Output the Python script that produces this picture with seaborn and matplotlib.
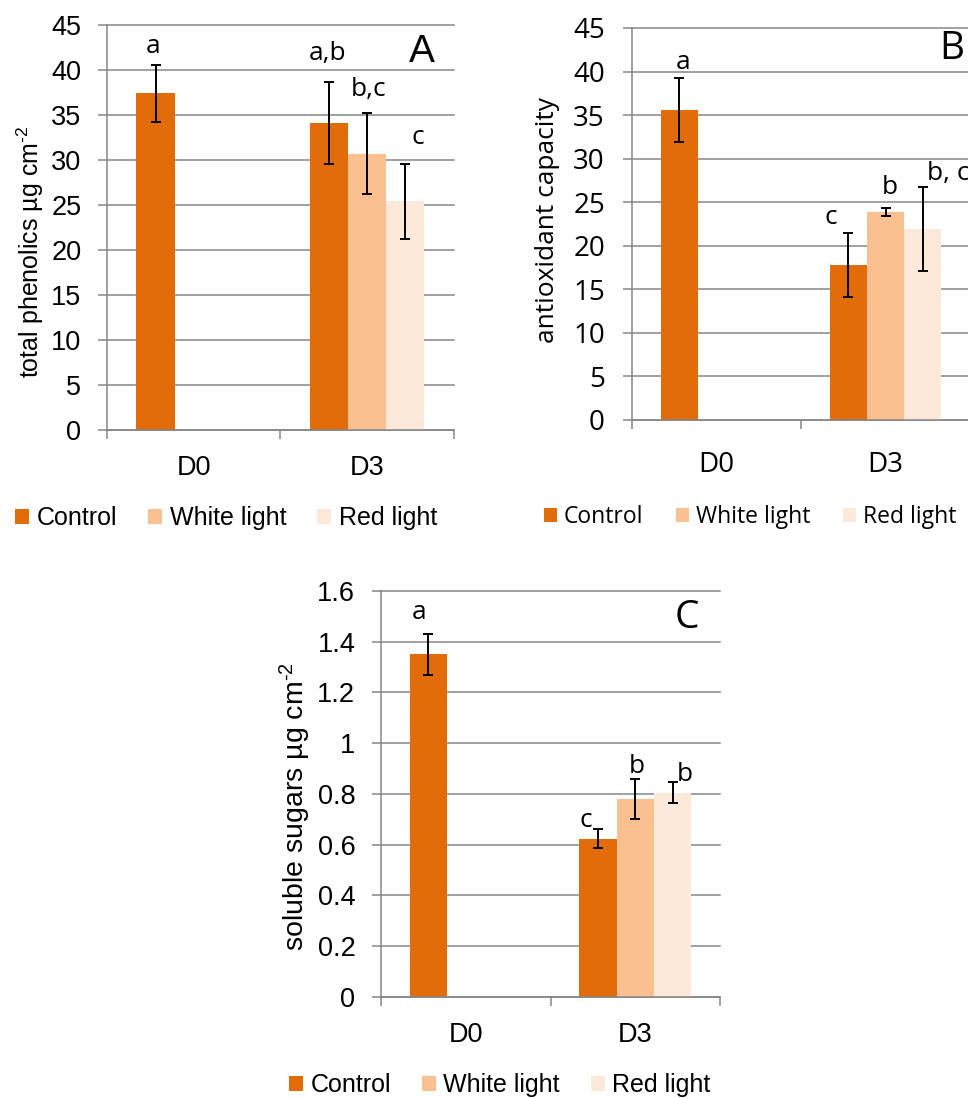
import numpy as np
import pandas as pd
import matplotlib
matplotlib.use("Agg")
import matplotlib.pyplot as plt
from matplotlib.patches import Patch
from matplotlib.ticker import FuncFormatter
import seaborn as sns

# values (mean and error bar half-length)
days = ["D0", "D3", "D3", "D3"]
treatments = ["Control", "Control", "White light", "Red light"]
day_order = ["D0", "D3"]
treatment_order = ["Control", "White light", "Red light"]

phenolics_mean = [37.4, 34.1, 30.7, 25.4]
phenolics_sd = [3.2, 4.6, 4.5, 4.2]
phenolics_letters = ["a", "a,b", "b,c", "c"]

antiox_mean = [35.6, 17.8, 23.9, 21.9]
antiox_sd = [3.65, 3.65, 0.45, 4.85]
antiox_letters = ["a", "c", "b", "b, c"]

sugars_mean = [1.35, 0.624, 0.779, 0.805]
sugars_sd = [0.08, 0.037, 0.078, 0.042]
sugars_letters = ["a", "c", "b", "b"]

colors = ["#E36C0A", "#FAC090", "#FDE9D9"]
grid_col = "#868686"

plt.rcParams["mathtext.fontset"] = "custom"
plt.rcParams["mathtext.rm"] = "Liberation Sans"
plt.rcParams["mathtext.it"] = "Liberation Sans:italic"
plt.rcParams["mathtext.bf"] = "Liberation Sans:bold"

fig = plt.figure(figsize=(9.68, 10.98), dpi=100)
fig.patch.set_facecolor("white")


def draw_panel(rect, means, sds, letters, ylim, ystep, ylabel, font, tick_size, ylab_size,
               leg_size, leg_spacing, ypad, xpad, tag, tag_font, tag_xy, letter_y, letter_dx,
               leg_xy, ylab_xy):
    ax = fig.add_axes(rect)
    df = pd.DataFrame({"day": days, "treatment": treatments, "value": means, "sd": sds})
    sns.barplot(data=df, x="day", y="value", hue="treatment", order=day_order,
                hue_order=treatment_order, palette=colors, width=0.66, saturation=1,
                errorbar=None, legend=False, linewidth=0, ax=ax, zorder=2)

    # bar centres, one container per treatment
    xpos = {}
    for cont, trt in zip(ax.containers, treatment_order):
        rows = df[df["treatment"] == trt]
        for bar, idx in zip(cont.patches, rows.index):
            xpos[idx] = bar.get_x() + bar.get_width() / 2
    xs = [xpos[i] for i in df.index]
    ax.errorbar(xs, df["value"], yerr=df["sd"], fmt="none", ecolor="black",
                elinewidth=1.4, capsize=3.3, capthick=1.4, zorder=3)

    for i, lab in enumerate(letters):
        ax.annotate(lab, (xs[i], letter_y[i]), xytext=(letter_dx[i] * 0.72, 0),
                    textcoords="offset points", ha="center", va="center",
                    fontsize=19, family="Open Sans", annotation_clip=False)

    ax.text(tag_xy[0], tag_xy[1], tag, fontsize=28, family=tag_font,
            ha="center", va="center")

    ax.set_xlim(-0.5, 1.5)
    ax.set_ylim(*ylim)
    ax.set_yticks(np.arange(ylim[0], ylim[1] + ystep / 2, ystep))
    ax.yaxis.set_major_formatter(FuncFormatter(lambda v, p: f"{v:g}"))
    ax.set_xticks([0, 1])
    ax.set_xticklabels(day_order)
    ax.set_xticks([-0.5, 0.5, 1.5], minor=True)
    ax.set_xlabel("")
    ax.set_ylabel(ylabel, fontsize=ylab_size, family=font)
    ax.yaxis.set_label_coords(*ylab_xy)

    ax.yaxis.grid(True, color=grid_col, lw=1.1)
    for gl in ax.get_ygridlines():
        gl.set_clip_on(False)
    ax.set_axisbelow(True)
    for s in ["top", "right"]:
        ax.spines[s].set_visible(False)
    for s in ["left", "bottom"]:
        ax.spines[s].set_color(grid_col)
        ax.spines[s].set_linewidth(1.1)

    ax.tick_params(axis="y", length=6.5, width=1.1, color=grid_col, pad=ypad,
                   labelsize=tick_size)
    ax.tick_params(axis="x", which="major", length=0, pad=xpad, labelsize=tick_size)
    ax.tick_params(axis="x", which="minor", length=6.5, width=1.1, color=grid_col)
    for t in ax.get_xticklabels() + ax.get_yticklabels():
        t.set_family(font)

    handles = [Patch(facecolor=c, edgecolor="none") for c in colors]
    fig.legend(handles, treatment_order, loc="center", bbox_to_anchor=leg_xy, ncol=3,
               frameon=False, handlelength=0.55, handleheight=0.55, handletextpad=0.3,
               columnspacing=leg_spacing, borderpad=0, prop={"family": font, "size": leg_size})
    return ax


# A - total phenolics
draw_panel([0.1105, 0.6084, 0.3585, 0.3689], phenolics_mean, phenolics_sd, phenolics_letters,
           (0, 45), 5, r"total phenolics µg cm$^{\text{-}2}$", "Liberation Sans", 19.5, 18,
           18, 1.25, 12, 18, "A", "Liberation Sans", (1.316, 42.0),
           [42.6, 41.8, 37.8, 32.5], [-2, -1, 1, 12], (0.2335, 0.5282), (-0.175, 0.44))

# B - antioxidant capacity
draw_panel([0.6529, 0.6175, 0.3492, 0.3570], antiox_mean, antiox_sd, antiox_letters,
           (0, 45), 5, "antioxidant capacity", "Open Sans", 20, 19,
           16.5, 1.45, 13, 22, "B", "Open Sans", (1.393, 42.6),
           [41.0, 23.2, 26.7, 28.3], [4, -18, 4, 26], (0.7748, 0.5291), (-0.213, 0.51))

# C - soluble sugars
draw_panel([0.3936, 0.0920, 0.3502, 0.3698], sugars_mean, sugars_sd, sugars_letters,
           (0, 1.6), 0.2, r"soluble sugars µg cm$^{\text{-}2}$", "Liberation Sans", 19.5, 20.5,
           18, 1.25, 12, 18, "C", "Open Sans", (1.305, 1.493),
           [1.514, 0.697, 0.910, 0.876], [-9, -12, 2, 12], (0.5165, 0.0118), (-0.20, 0.47))

fig.savefig("out.png", dpi=100, facecolor="white")
